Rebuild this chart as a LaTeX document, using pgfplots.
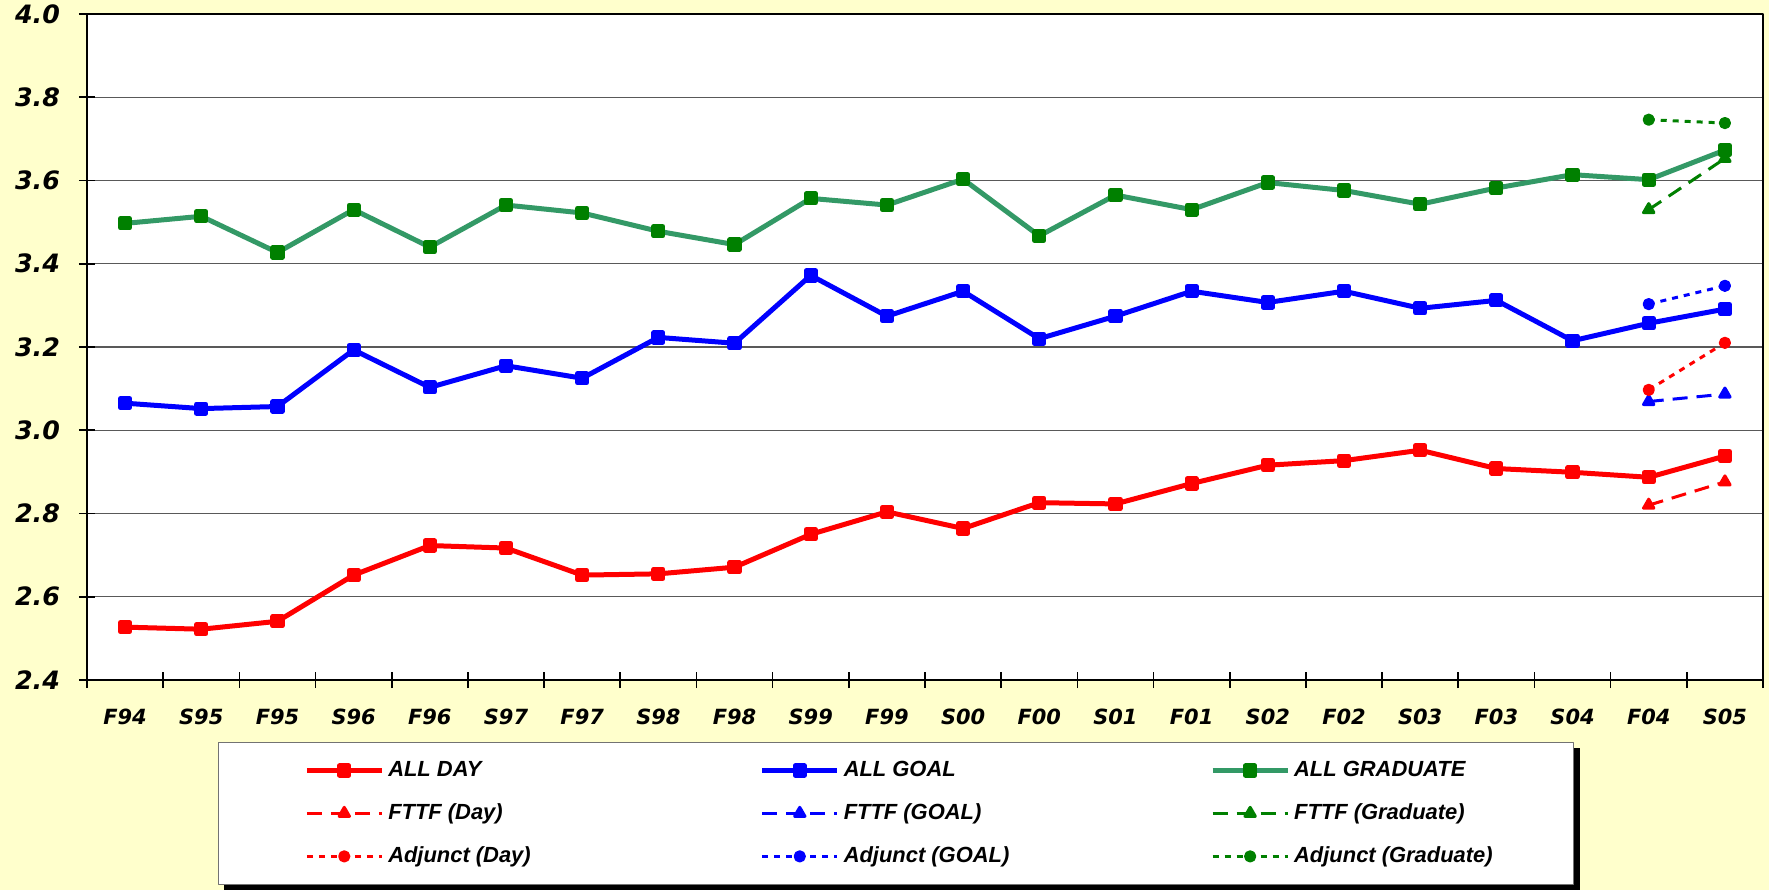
\documentclass[border=0pt]{standalone}
\usepackage{pgfplots}
\pgfplotsset{compat=1.18}
\usepackage{fontspec}
\setmainfont{Liberation Sans}
\newfontfamily\tickfont{DejaVu Sans}
\usetikzlibrary{backgrounds}
\definecolor{bgyellow}{HTML}{FFFFCC}
\definecolor{gline}{HTML}{339966}
\definecolor{gmark}{HTML}{008000}
\newcommand\LA[1]{\makebox[187.75bp][l]{\hspace{2bp}#1}}
\newcommand\LB[1]{\makebox[185.2bp][l]{\hspace{2bp}#1}}
\newcommand\LC[1]{\makebox[98.7bp][l]{\hspace{2bp}#1}}
\begin{document}
\begin{tikzpicture}
\useasboundingbox (0bp,0bp) rectangle (884.5bp,445bp);
\begin{axis}[
  at={(43.5bp,105bp)}, anchor=south west,
  scale only axis, width=838bp, height=333bp,
  axis background/.style={fill=white},
  xmin=-0.5, xmax=21.5, ymin=2.4, ymax=4.0,
  xtick={-0.5,0.5,1.5,2.5,3.5,4.5,5.5,6.5,7.5,8.5,9.5,10.5,11.5,12.5,13.5,14.5,15.5,16.5,17.5,18.5,19.5,20.5,21.5},
  x tick label as interval=true,
  xticklabels={F94,S95,F95,S96,F96,S97,F97,S98,F98,S99,F99,S00,F00,S01,F01,S02,F02,S03,F03,S04,F04,S05},
  ytick={2.4,2.6,2.8,3.0,3.2,3.4,3.6,3.8,4.0},
  xtick pos=bottom, ytick pos=left,
  /pgf/number format/fixed,
  /pgf/number format/fixed zerofill,
  /pgf/number format/precision=1,
  /pgf/number format/assume math mode=true,
  yticklabel style={font=\tickfont\bfseries\itshape\fontsize{12.7}{14}\selectfont, xshift=-6bp},
  xticklabel style={font=\tickfont\bfseries\itshape\fontsize{10.5}{12}\selectfont, yshift=-7bp},
  ymajorgrids, grid style={black!65, line width=0.6bp},
  tick align=center, major tick length=8bp,
  every tick/.style={black, line width=0.8bp},
  axis line style={black, line width=1.3bp},
  legend columns=3,
  legend image code/.code={\draw[mark repeat=2,mark phase=2,#1] plot coordinates {(0bp,0bp) (18.75bp,0bp) (37.5bp,0bp)};},
  legend style={name=leg, at={(0.0782,-0.0931)}, anchor=north west, draw=black!55, line width=0.6bp, fill=white,
    inner xsep=42.8bp, inner ysep=9.4bp, nodes={inner sep=0pt}, cells={anchor=west},
    column sep=0pt, row sep=12.1bp,
    font=\bfseries\itshape\fontsize{11}{12}\selectfont},
  line join=round,
]
% ALL series
\addplot[red, line width=2.5bp, mark=square*, mark size=2.3bp, mark options={solid}] coordinates {
(0,2.527)(1,2.522)(2,2.541)(3,2.652)(4,2.723)(5,2.717)(6,2.652)(7,2.655)(8,2.671)(9,2.750)(10,2.804)
(11,2.764)(12,2.826)(13,2.823)(14,2.872)(15,2.916)(16,2.927)(17,2.952)(18,2.908)(19,2.899)(20,2.887)(21,2.938)};
\addlegendentry{\LA{ALL DAY}}
\addplot[blue, line width=2.5bp, mark=square*, mark size=2.3bp, mark options={solid}] coordinates {
(0,3.065)(1,3.052)(2,3.057)(3,3.193)(4,3.103)(5,3.155)(6,3.125)(7,3.223)(8,3.209)(9,3.372)(10,3.274)
(11,3.334)(12,3.220)(13,3.274)(14,3.334)(15,3.307)(16,3.334)(17,3.293)(18,3.312)(19,3.215)(20,3.257)(21,3.291)};
\addlegendentry{\LB{ALL GOAL}}
\addplot[gline, line width=2.5bp, mark=square*, mark size=2.3bp, mark options={solid, draw=gmark, fill=gmark}] coordinates {
(0,3.497)(1,3.514)(2,3.427)(3,3.530)(4,3.440)(5,3.541)(6,3.522)(7,3.478)(8,3.446)(9,3.557)(10,3.541)
(11,3.603)(12,3.467)(13,3.565)(14,3.530)(15,3.595)(16,3.576)(17,3.543)(18,3.582)(19,3.614)(20,3.602)(21,3.673)};
\addlegendentry{\LC{ALL GRADUATE}}
% FTTF
\addplot[red, line width=1.5bp, dash pattern=on 7.5bp off 4.5bp, mark=triangle*, mark size=3bp, mark options={solid}] coordinates {(20,2.820)(21,2.876)};
\addlegendentry{\LA{FTTF (Day)}}
\addplot[blue, line width=1.5bp, dash pattern=on 7.5bp off 4.5bp, mark=triangle*, mark size=3bp, mark options={solid}] coordinates {(20,3.069)(21,3.087)};
\addlegendentry{\LB{FTTF (GOAL)}}
\addplot[gmark, line width=1.5bp, dash pattern=on 7.5bp off 4.5bp, mark=triangle*, mark size=3bp, mark options={solid}] coordinates {(20,3.530)(21,3.653)};
\addlegendentry{\LC{FTTF (Graduate)}}
% Adjunct
\addplot[red, line width=1.5bp, dash pattern=on 3bp off 3bp, mark=*, mark size=2.3bp, mark options={solid}] coordinates {(20,3.097)(21,3.210)};
\addlegendentry{\LA{Adjunct (Day)}}
\addplot[blue, line width=1.5bp, dash pattern=on 3bp off 3bp, mark=*, mark size=2.3bp, mark options={solid}] coordinates {(20,3.303)(21,3.347)};
\addlegendentry{\LB{Adjunct (GOAL)}}
\addplot[gmark, line width=1.5bp, dash pattern=on 3bp off 3bp, mark=*, mark size=2.3bp, mark options={solid}] coordinates {(20,3.746)(21,3.738)};
\addlegendentry{\LC{Adjunct (Graduate)}}
\end{axis}
\begin{scope}[on background layer]
\fill[bgyellow] (0bp,0bp) rectangle (884.5bp,445bp);
\fill[black] ([xshift=3bp,yshift=-3bp]leg.south west) rectangle ([xshift=3bp,yshift=-3bp]leg.north east);
\end{scope}
\end{tikzpicture}
\end{document}
